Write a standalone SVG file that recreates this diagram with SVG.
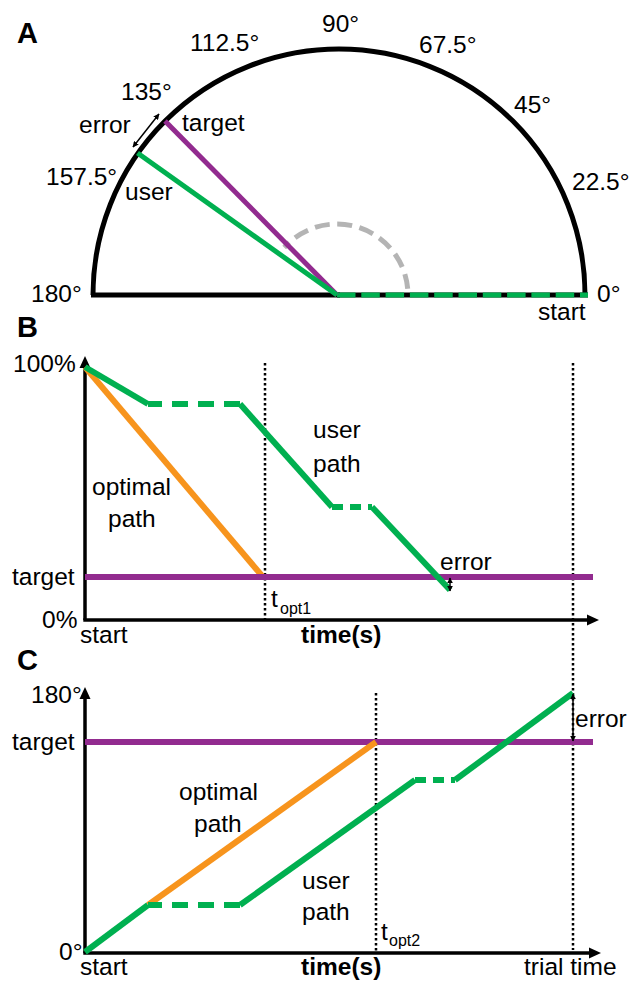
<svg xmlns="http://www.w3.org/2000/svg" width="630" height="981" viewBox="0 0 630 981">
<style>
text{font-family:"Liberation Sans",Arial,sans-serif;font-size:24.5px;fill:#000}
.bold{font-weight:bold}
.panel{font-weight:bold;font-size:29px}
.sub{font-size:16px}
.ax{stroke:#000;stroke-width:3.5;fill:none}
.g{stroke:#00b050;stroke-width:6;fill:none;stroke-linejoin:miter}
.p{stroke:#922b8f;stroke-width:6;fill:none}
.o{stroke:#f7941d;stroke-width:6;fill:none}
.dot{stroke:#000;stroke-width:2.5;stroke-dasharray:2.5 2.5;fill:none}
.thin{stroke:#000;stroke-width:1.5;fill:none}
</style>
<defs>
<marker id="ah" viewBox="0 0 10 10" refX="9" refY="5" markerWidth="6" markerHeight="6" orient="auto-start-reverse" markerUnits="userSpaceOnUse"><path d="M0,0 L10,5 L0,10 z" fill="#000"/></marker>
</defs>

<!-- Panel A -->
<g id="panelA">
<text class="panel" x="17" y="43">A</text>
<path d="M93,295 A246,246 0 0 1 585,295" stroke="#000" stroke-width="5" fill="none"/>
<line x1="91" y1="295" x2="340" y2="295" stroke="#000" stroke-width="5"/>
<line x1="337" y1="295" x2="588" y2="295" stroke="#000" stroke-width="5"/>
<line x1="337" y1="295" x2="588" y2="295" stroke="#00b050" stroke-width="5" stroke-dasharray="18.5 5.8"/>
<path d="M407.7,288.8 A71,71 0 0 0 284.2,247.5" stroke="#b4b4b4" stroke-width="5" fill="none" stroke-dasharray="15 7.5"/>
<line x1="337" y1="295" x2="165" y2="121" stroke="#922b8f" stroke-width="5"/>
<line x1="337" y1="295" x2="137.5" y2="153" stroke="#00b050" stroke-width="5"/>
<line x1="133" y1="147" x2="159" y2="114" class="thin" marker-start="url(#ah)" marker-end="url(#ah)"/>
<text x="322" y="32">90°</text>
<text x="190" y="51">112.5°</text>
<text x="419" y="53">67.5°</text>
<text x="514" y="113">45°</text>
<text x="572" y="190">22.5°</text>
<text x="597" y="302">0°</text>
<text x="538" y="320">start</text>
<text x="121" y="100">135°</text>
<text x="79" y="133">error</text>
<text x="182" y="131">target</text>
<text x="46" y="185">157.5°</text>
<text x="125" y="200">user</text>
<text x="31" y="302">180°</text>
</g>

<!-- connectors / shared dotted lines -->
<g id="connectors">
<line x1="265" y1="363" x2="265" y2="620" class="dot"/>
<line x1="573" y1="363" x2="573" y2="950" class="dot"/>
<line x1="376" y1="693" x2="376" y2="952" class="dot"/>
</g>

<!-- Panel B -->
<g id="panelB">
<text class="panel" x="17" y="337">B</text>
<polyline points="85,620 85,364" class="ax"/>
<polygon points="85,356 79.5,368 90.5,368" fill="#000"/>
<polyline points="83.3,620 592,620" class="ax"/>
<polygon points="599,620 587,614.5 587,625.5" fill="#000"/>
<line x1="85" y1="367" x2="263" y2="577" class="o"/>
<line x1="85" y1="577" x2="593" y2="577" class="p"/>
<polyline points="85,367 148,404" class="g"/>
<line x1="240" y1="404" x2="148" y2="404" class="g" stroke-dasharray="16 10"/>
<polyline points="240,404 332,507" class="g"/>
<line x1="332" y1="507" x2="372" y2="507" class="g" stroke-dasharray="11 7"/>
<polyline points="372,507 450,590" class="g"/>
<line x1="450" y1="578" x2="450" y2="591" class="thin" marker-start="url(#ah)" marker-end="url(#ah)"/>
<text x="13" y="372">100%</text>
<text x="12" y="585">target</text>
<text x="42" y="628">0%</text>
<text x="80" y="643">start</text>
<text class="bold" x="301" y="643">time(s)</text>
<text x="92" y="495">optimal</text>
<text x="108" y="527">path</text>
<text x="313" y="438">user</text>
<text x="313" y="472">path</text>
<text x="440" y="570">error</text>
<text x="271" y="607">t</text>
<text class="sub" x="280" y="614">opt1</text>
</g>

<!-- Panel C -->
<g id="panelC">
<text class="panel" x="17" y="670">C</text>
<polyline points="85,953 85,695" class="ax"/>
<polygon points="85,687 79.5,699 90.5,699" fill="#000"/>
<polyline points="83.3,953 594,953" class="ax"/>
<polygon points="601,953 589,947.5 589,958.5" fill="#000"/>
<line x1="85" y1="742" x2="593" y2="742" class="p"/>
<line x1="148" y1="905" x2="376" y2="742" class="o"/>
<polyline points="85,952 148,905" class="g"/>
<line x1="240" y1="905" x2="148" y2="905" class="g" stroke-dasharray="16 10"/>
<polyline points="240,905 415,780" class="g"/>
<line x1="415" y1="780" x2="455" y2="780" class="g" stroke-dasharray="11 7"/>
<polyline points="455,780 573,693" class="g"/>
<line x1="573" y1="694" x2="573" y2="741" class="thin" marker-start="url(#ah)" marker-end="url(#ah)"/>
<text x="31" y="703">180°</text>
<text x="12" y="750">target</text>
<text x="59" y="960">0°</text>
<text x="80" y="975">start</text>
<text class="bold" x="301" y="975">time(s)</text>
<text x="524" y="975">trial time</text>
<text x="179" y="800">optimal</text>
<text x="194" y="832">path</text>
<text x="302" y="889">user</text>
<text x="302" y="920">path</text>
<text x="575" y="727">error</text>
<text x="381" y="940">t</text>
<text class="sub" x="389" y="946">opt2</text>
</g>
</svg>
